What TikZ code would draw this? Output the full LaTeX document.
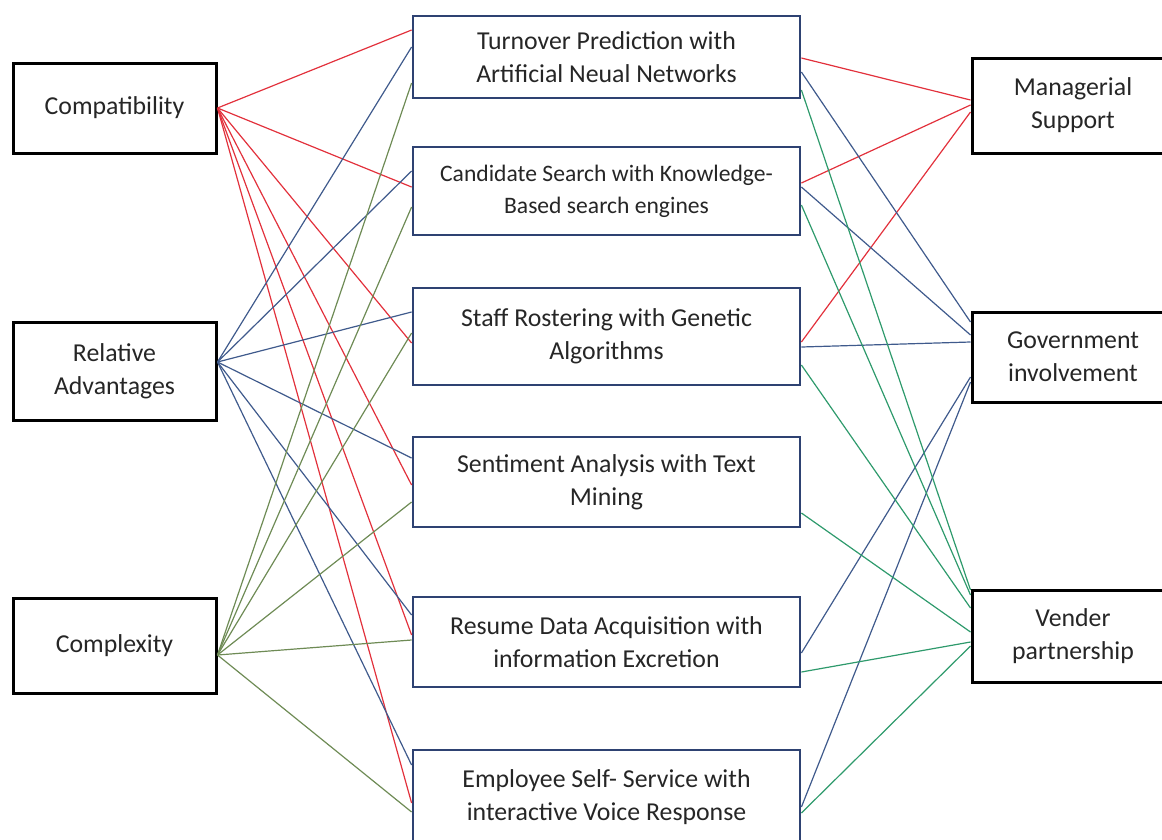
\documentclass[tikz,border=0pt]{standalone}
\usepackage{fontspec}
\setmainfont{Carlito}
\definecolor{cred}{HTML}{E2313C}
\definecolor{cblue}{HTML}{3F5A8C}
\definecolor{cgreenL}{HTML}{6E8B55}
\definecolor{cgreenR}{HTML}{2E9A6C}
\definecolor{cnavy}{HTML}{2E4272}
\definecolor{ctext}{HTML}{262626}
\tikzset{
  sidebox/.style={draw=black, line width=3pt, fill=white, text=ctext, align=center,
    inner sep=0pt, font=\fontsize{25.8}{33}\selectfont},
  midbox/.style={draw=cnavy, line width=2.8pt, fill=white, text=ctext, align=center,
    inner sep=0pt, minimum width=387pt, font=\fontsize{25.8}{33}\selectfont},
  rl/.style={cred, line width=1.2pt},
  bl/.style={cblue, line width=1.2pt},
  gl/.style={cgreenL, line width=1.2pt},
  gr/.style={cgreenR, line width=1.2pt}
}
\begin{document}
\begin{tikzpicture}[x=1pt,y=-1pt]
\useasboundingbox (0,0) rectangle (1162,839);
% left
\node[sidebox, minimum width=203pt, minimum height=90pt] (comp) at (114.5,108) {Compatibility};
\node[sidebox, minimum width=203pt, minimum height=98pt] (ra) at (114.5,371) {Relative\\Advantages};
\node[sidebox, minimum width=203pt, minimum height=95pt] (cx) at (114.5,645.5) {Complexity};
% middle
\node[midbox, minimum height=82pt] (m1) at (606.5,57) {Turnover Prediction with\\Artificial Neual Networks};
\node[midbox, minimum height=88pt, font=\fontsize{23.6}{32}\selectfont] (m2) at (606.5,191) {Candidate Search with Knowledge-\\Based search engines};
\node[midbox, minimum height=97pt] (m3) at (606.5,336.5) {Staff Rostering with Genetic\\Algorithms};
\node[midbox, minimum height=90pt] (m4) at (606.5,482) {Sentiment Analysis with Text\\Mining};
\node[midbox, minimum height=90pt] (m5) at (606.5,642) {Resume Data Acquisition with\\information Excretion};
\node[midbox, minimum height=95pt] (m6) at (606.5,797.5) {Employee Self- Service with\\interactive Voice Response};
% right
\node[sidebox, minimum width=202pt, minimum height=95pt] (ms) at (1073,105.5) {Managerial\\Support};
\node[sidebox, minimum width=202pt, minimum height=90pt] (gov) at (1073,357) {Government\\involvement};
\node[sidebox, minimum width=202pt, minimum height=92pt] (ven) at (1073,636) {Vender\\partnership};
% compatibility (red)
\draw[rl] (comp.east) -- ([yshift=27pt]m1.west);
\draw[rl] (comp.east) -- ([yshift=4pt]m2.west);
\draw[rl] (comp.east) -- ([yshift=-6.5pt]m3.west);
\draw[rl] (comp.east) -- ([yshift=-3pt]m4.west);
\draw[rl] (comp.east) -- ([yshift=7pt]m5.west);
\draw[rl] (comp.east) -- ([yshift=-5.5pt]m6.west);
% relative advantages (blue)
\draw[bl] ([yshift=9pt]ra.east) -- ([yshift=10pt]m1.west);
\draw[bl] ([yshift=9pt]ra.east) -- ([yshift=20pt]m2.west);
\draw[bl] ([yshift=9pt]ra.east) -- ([yshift=24.5pt]m3.west);
\draw[bl] ([yshift=9pt]ra.east) -- ([yshift=24pt]m4.west);
\draw[bl] ([yshift=9pt]ra.east) -- ([yshift=27pt]m5.west);
\draw[bl] ([yshift=9pt]ra.east) -- ([yshift=32.5pt]m6.west);
% complexity (green)
\draw[gl] ([yshift=-9.5pt]cx.east) -- ([yshift=-26pt]m1.west);
\draw[gl] ([yshift=-9.5pt]cx.east) -- ([yshift=-16pt]m2.west);
\draw[gl] ([yshift=-9.5pt]cx.east) -- ([yshift=3.5pt]m3.west);
\draw[gl] ([yshift=-9.5pt]cx.east) -- ([yshift=-20pt]m4.west);
\draw[gl] ([yshift=-9.5pt]cx.east) -- ([yshift=2pt]m5.west);
\draw[gl] ([yshift=-9.5pt]cx.east) -- ([yshift=-14.5pt]m6.west);
% managerial support (red)
\draw[rl] ([yshift=-1pt]m1.east) -- ([yshift=5.5pt]ms.west);
\draw[rl] ([yshift=8pt]m2.east) -- ([yshift=0.5pt]ms.west);
\draw[rl] ([yshift=-5.5pt]m3.east) -- ([yshift=-6.5pt]ms.west);
% government (blue)
\draw[bl] ([yshift=-15pt]m1.east) -- ([yshift=35pt]gov.west);
\draw[bl] ([yshift=4pt]m2.east) -- ([yshift=22pt]gov.west);
\draw[bl] ([yshift=-10.5pt]m3.east) -- ([yshift=15pt]gov.west);
\draw[bl] ([yshift=-11pt]m5.east) -- ([yshift=-20pt]gov.west);
\draw[bl] ([yshift=-9.5pt]m6.east) -- ([yshift=-25pt]gov.west);
% vender (green)
\draw[gr] ([yshift=-33pt]m1.east) -- ([yshift=46pt]ven.west);
\draw[gr] ([yshift=-14pt]m2.east) -- ([yshift=41pt]ven.west);
\draw[gr] ([yshift=-28.5pt]m3.east) -- ([yshift=28pt]ven.west);
\draw[gr] ([yshift=-31pt]m4.east) -- ([yshift=4pt]ven.west);
\draw[gr] ([yshift=-30pt]m5.east) -- ([yshift=-6pt]ven.west);
\draw[gr] ([yshift=-15.5pt]m6.east) -- ([yshift=-10pt]ven.west);
\end{tikzpicture}
\end{document}
